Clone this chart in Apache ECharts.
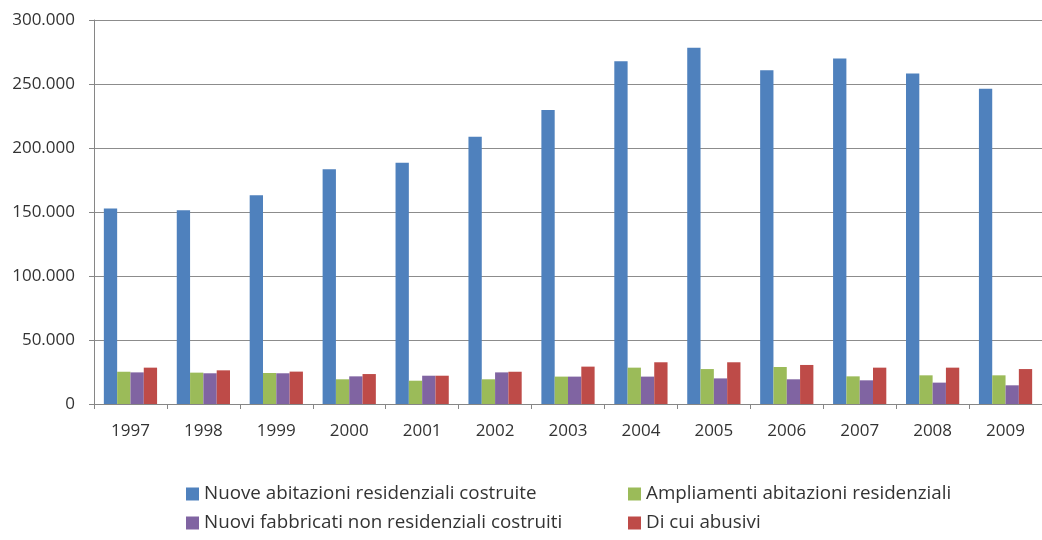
<!DOCTYPE html>
<html>
<head>
<meta charset="utf-8">
<script src="https://cdn.jsdelivr.net/npm/echarts@6/dist/echarts.min.js"></script>
<style>
html,body{margin:0;padding:0;background:#fff;}
#chart{width:1042px;height:540px;}
</style>
</head>
<body>
<div id="chart"></div>
<script>
const years = ['1997','1998','1999','2000','2001','2002','2003','2004','2005','2006','2007','2008','2009'];
const seriesNames = [
  'Nuove abitazioni residenziali costruite',
  'Ampliamenti abitazioni residenziali',
  'Nuovi fabbricati non residenziali costruiti',
  'Di cui abusivi'
];
const nuoveAbitazioni = [152700,151400,163100,183400,188500,208800,229600,267800,278300,260700,269900,258300,246300];
const ampliamenti = [25200,24500,24200,19300,18200,19300,21400,28400,27300,28900,21600,22400,22400];
const nuoviFabbricati = [24700,24000,24000,21600,22100,24700,21400,21400,20000,19300,18500,16700,14600];
const abusivi = [28400,26300,25300,23400,22100,25200,29200,32600,32600,30500,28400,28400,27300];
const yTicks = [0,50000,100000,150000,200000,250000,300000];

const colors = ['#4F81BD','#9BBB59','#8064A2','#BE4B48'];
const FONT = '"Open Sans", "Liberation Sans", sans-serif';
const TXT = '#333333';

function fmt(v){ return String(v).replace(/\B(?=(\d{3})+(?!\d))/g,'.'); }

const chart = echarts.init(document.getElementById('chart'), null, {renderer:'canvas'});
const values = [nuoveAbitazioni, ampliamenti, nuoviFabbricati, abusivi];

const legendPos = [
  {left:186, top:484},
  {left:628, top:484},
  {left:186, top:513},
  {left:628, top:513}
];

chart.setOption({
  animation:false,
  color: colors,
  textStyle:{fontFamily:FONT},
  grid:{left:94, top:20, bottom:136, width:958, containLabel:false},
  legend: seriesNames.map((n,i)=>({
    data:[n], left:legendPos[i].left, top:legendPos[i].top, padding:0,
    icon:'rect', itemWidth:13, itemHeight:13,
    textStyle:{fontFamily:FONT, fontSize:18.8, color:TXT, lineHeight:20},
    selectedMode:false
  })),
  xAxis:{
    type:'category', data:years,
    axisLine:{show:true, lineStyle:{color:'#868686', width:1}},
    axisTick:{show:true, length:5, lineStyle:{color:'#868686'}},
    axisLabel:{fontFamily:FONT, fontSize:17, color:TXT, margin:19, interval:0},
    splitLine:{show:false}
  },
  yAxis:{
    type:'value', min:yTicks[0], max:yTicks[yTicks.length-1], interval:yTicks[1]-yTicks[0],
    axisLine:{show:true, lineStyle:{color:'#868686', width:1}},
    axisTick:{show:true, length:5, lineStyle:{color:'#868686'}},
    axisLabel:{fontFamily:FONT, fontSize:17, color:TXT, margin:19, formatter:fmt},
    splitLine:{show:true, lineStyle:{color:'#8c8c8c', width:1}}
  },
  series: seriesNames.map((n,i)=>({
    name:n, type:'bar', data:values[i],
    barGap:'0%', barCategoryGap:'27%',
    itemStyle:{color:colors[i]}
  }))
});
</script>
</body>
</html>
